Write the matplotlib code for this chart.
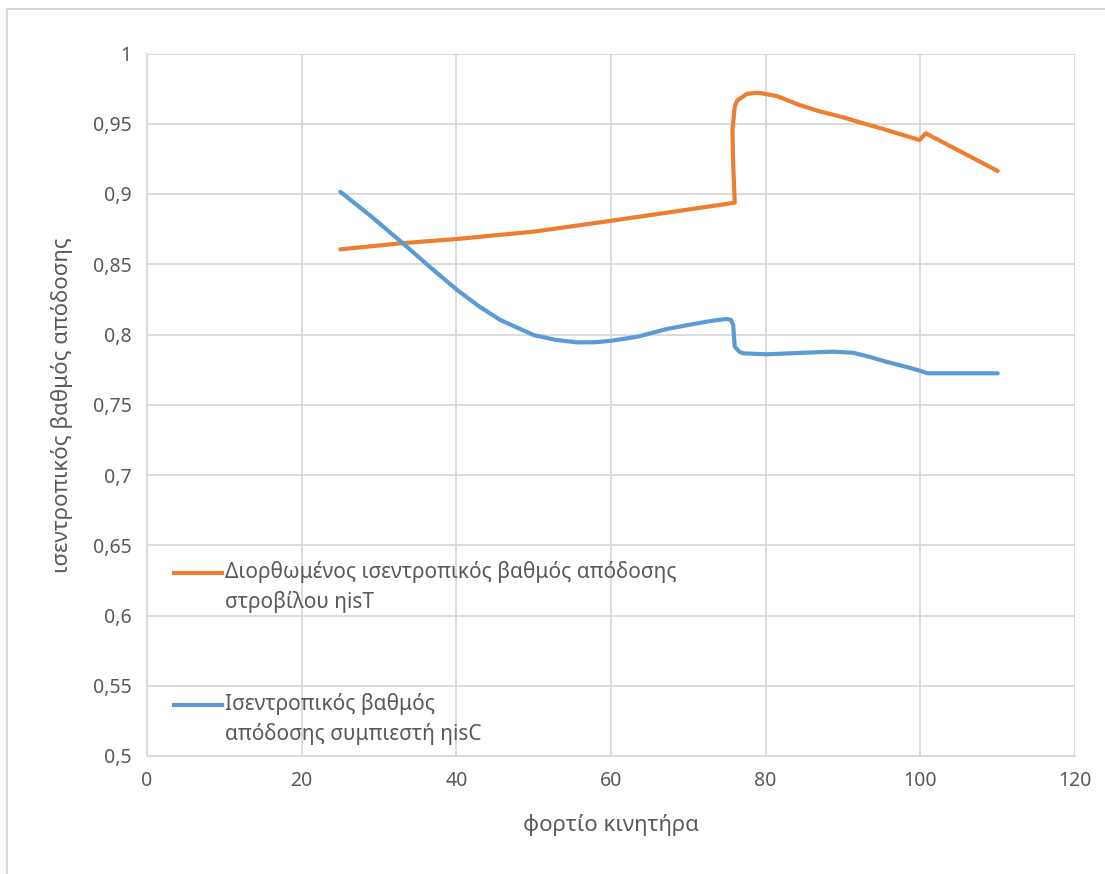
import matplotlib
matplotlib.use('Agg')
import matplotlib.pyplot as plt
from matplotlib.lines import Line2D

plt.rcParams['font.family'] = ['Noto Sans', 'DejaVu Sans']

# values (load %, efficiency)
turb_x = [25.0, 32.8, 40.1, 50.0, 60.1, 67.2, 76.0, 75.8, 75.7, 76.0, 76.3, 77.6, 79.0,
          81.4, 84.4, 87.0, 90.0, 92.8, 95.6, 99.9, 100.7, 110.0]
turb_y = [0.8606, 0.8649, 0.868, 0.8732, 0.881, 0.8867, 0.8938, 0.9219, 0.9456, 0.9621,
          0.9665, 0.9713, 0.9721, 0.9698, 0.9633, 0.9588, 0.9546, 0.950, 0.9456, 0.9384,
          0.9432, 0.9164]

comp_x = [25.0, 29.0, 33.2, 36.6, 40.1, 43.0, 45.7, 50.0, 52.8, 55.6, 58.0, 60.1, 63.5,
          67.2, 71.0, 73.0, 74.9, 75.5, 75.8, 76.0, 76.6, 77.1, 80.1, 84.0, 88.7, 91.3,
          93.5, 95.6, 97.8, 100.1, 100.9, 110.0]
comp_y = [0.9016, 0.8840, 0.8644, 0.8480, 0.8317, 0.8198, 0.8103, 0.7996, 0.7962, 0.7944,
          0.7945, 0.7956, 0.7985, 0.8039, 0.8078, 0.8097, 0.811, 0.8105, 0.8068, 0.7913,
          0.7878, 0.7866, 0.7859, 0.7868, 0.7878, 0.787, 0.7840, 0.7806, 0.7775, 0.774,
          0.7724, 0.7724]

turb_label = 'Διορθωμένος ισεντροπικός βαθμός απόδοσης\nστροβίλου ηisT'
comp_label = 'Ισεντροπικός βαθμός\nαπόδοσης συμπιεστή ηisC'

x_ticks = [0, 20, 40, 60, 80, 100, 120]
y_ticks = [0.5, 0.55, 0.6, 0.65, 0.7, 0.75, 0.8, 0.85, 0.9, 0.95, 1.0]
y_tick_labels = ['0,5', '0,55', '0,6', '0,65', '0,7', '0,75', '0,8', '0,85', '0,9', '0,95', '1']

ORANGE = '#ed7d31'
BLUE = '#5b9bd5'
GRID = '#d9d9d9'
TXT = '#595959'
W, H = 1105, 874

fig = plt.figure(figsize=(W / 100, H / 100), dpi=100)
ax = fig.add_axes([147 / W, 1 - 756 / H, (1075 - 147) / W, (756 - 53.5) / H])

ax.plot(turb_x, turb_y, color=ORANGE, lw=3, solid_capstyle='round', solid_joinstyle='round', zorder=3)
ax.plot(comp_x, comp_y, color=BLUE, lw=3, solid_capstyle='round', solid_joinstyle='round', zorder=3)

ax.set_xlim(0, 120)
ax.set_ylim(0.5, 1.0)
ax.set_xticks(x_ticks)
ax.set_xticklabels([str(t) for t in x_ticks])
ax.set_yticks(y_ticks)
ax.set_yticklabels(y_tick_labels)
ax.tick_params(length=0, labelsize=14, colors=TXT, pad=11)
ax.grid(True, color=GRID, lw=1.3)
ax.set_axisbelow(True)
for s in ['top', 'right']:
    ax.spines[s].set_visible(False)
for s in ['left', 'bottom']:
    ax.spines[s].set_color(GRID)
    ax.spines[s].set_linewidth(1.3)

ax.set_xlabel('φορτίο κινητήρα', fontsize=16, color=TXT, labelpad=16)
ax.set_ylabel('ισεντροπικός βαθμός απόδοσης', fontsize=16, color=TXT, labelpad=14)

# legend inside the plot area: handle level with the first text line
for label, color, y0 in [(turb_label, ORANGE, 573), (comp_label, BLUE, 705)]:
    fig.add_artist(Line2D([174 / W, 222 / W], [1 - y0 / H, 1 - y0 / H], color=color, lw=3))
    fig.text(225 / W, 1 - (y0 - 12) / H, label, fontsize=15, color=TXT,
             ha='left', va='top', linespacing=1.45)

# light chart border (left and top visible)
fig.add_artist(Line2D([7 / W, 7 / W], [0, 1 - 9 / H], color=GRID, lw=1.5))
fig.add_artist(Line2D([7 / W, 1], [1 - 9 / H, 1 - 9 / H], color=GRID, lw=1.5))

fig.savefig('out.png', dpi=100)
